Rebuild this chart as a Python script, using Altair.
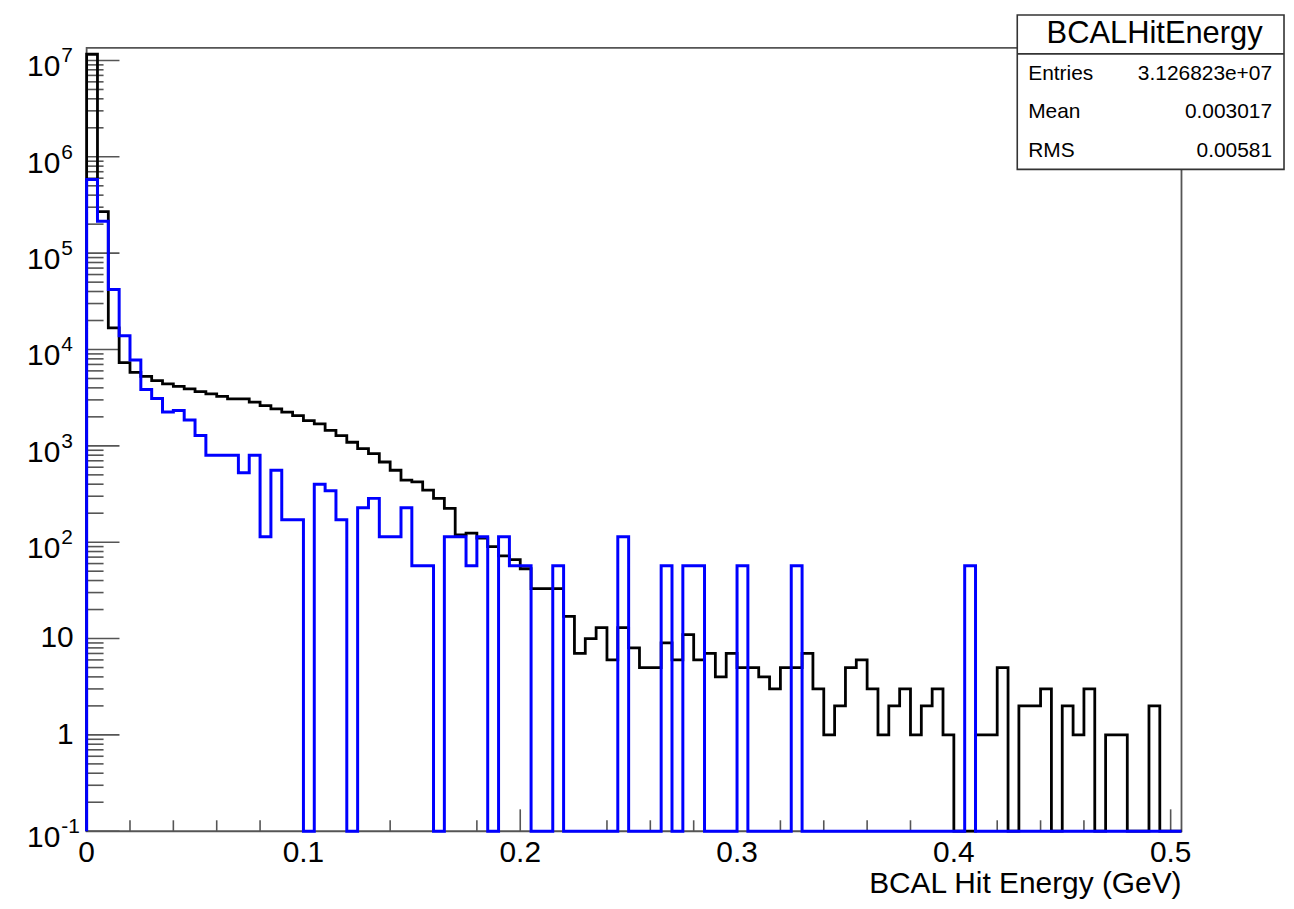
import altair as alt
import pandas as pd

# ---------------- data ----------------
BIN_WIDTH = 0.005
Y_FLOOR = 0.1
Y_TOP = 1.35e7
X_MAX = 0.505

black_counts = [
    1.16e7, 2.7e5, 1.68e4, 7.3e3, 5.8e3, 5.26e3, 4.75e3, 4.4e3, 4.15e3, 3.9e3,
    3.66e3, 3.46e3, 3.27e3, 3.07e3, 3.07e3, 2.84e3, 2.62e3, 2.42e3, 2.24e3, 2.06e3,
    1.83e3, 1.69e3, 1.45e3, 1.28e3, 1.09e3, 935, 830, 680, 558, 440,
    423, 347, 285, 224, 119, 124, 110, 90, 72, 66,
    53, 33, 33, 33, 17, 7, 10, 13, 6, 13,
    8, 5, 5, 9, 6, 11, 6, 7, 4, 7,
    5, 5, 4, 3, 5, 5, 7, 3, 1, 2,
    5, 6, 3, 1, 2, 3, 1, 2, 3, 1,
    0, 0, 1, 1, 5, 0, 2, 2, 3, 0,
    2, 1, 3, 0, 1, 1, 0, 0, 2, 0,
    0,
]

blue_counts = [
    5.8e5, 2.14e5, 4.2e4, 1.39e4, 7.8e3, 3.85e3, 3.1e3, 2.24e3, 2.33e3, 1.85e3,
    1.28e3, 800, 800, 800, 525, 800, 114, 558, 171, 171,
    0, 400, 342, 171, 0, 228, 285, 114, 114, 228,
    57, 57, 0, 114, 114, 57, 114, 0, 114, 57,
    57, 0, 0, 57, 0, 0, 0, 0, 0, 114,
    0, 0, 0, 57, 0, 57, 57, 0, 0, 0,
    57, 0, 0, 0, 0, 57, 0, 0, 0, 0,
    0, 0, 0, 0, 0, 0, 0, 0, 0, 0,
    0, 57, 0, 0, 0, 0, 0, 0, 0, 0,
    0, 0, 0, 0, 0, 0, 0, 0, 0, 0,
    0,
]

y_decades = [-1, 0, 1, 2, 3, 4, 5, 6, 7]
y_minor_mult = [2, 3, 4, 5, 6, 7, 8, 9]
x_major = [0.0, 0.1, 0.2, 0.3, 0.4, 0.5]
x_major_labels = ["0", "0.1", "0.2", "0.3", "0.4", "0.5"]
x_minor = [0.02, 0.04, 0.06, 0.08, 0.12, 0.14, 0.16, 0.18, 0.22, 0.24, 0.26,
           0.28, 0.32, 0.34, 0.36, 0.38, 0.42, 0.44, 0.46, 0.48]
x_title = "BCAL Hit Energy (GeV)"
stat_title = "BCALHitEnergy"
stat_names = ["Entries", "Mean", "RMS"]
stat_values = ["3.126823e+07", "0.003017", "0.00581"]

# ---------------- layout ----------------
W, H = 1100, 787
FONT = "Liberation Sans"
AXIS_COLOR = "#555555"

xs = alt.Scale(domain=[0, X_MAX], nice=False, zero=False)
ys = alt.Scale(type="log", domain=[Y_FLOOR, Y_TOP], nice=False)


def step_frame(counts):
    rows = [{"x": 0.0, "y": Y_FLOOR, "o": 0}]
    for k, c in enumerate(counts):
        rows.append({"x": k * BIN_WIDTH, "y": max(c, Y_FLOOR), "o": k + 1})
    n = len(counts)
    rows.append({"x": n * BIN_WIDTH, "y": max(counts[-1], Y_FLOOR), "o": n + 1})
    rows.append({"x": n * BIN_WIDTH, "y": Y_FLOOR, "o": n + 2})
    return pd.DataFrame(rows)


one = pd.DataFrame({"a": [0]})

frame = alt.Chart(one).mark_rect(fill=None, stroke=AXIS_COLOR, strokeWidth=1.8).encode(
    x=alt.value(0), x2=alt.value(W), y=alt.value(0), y2=alt.value(H))

# y ticks
ymaj = pd.DataFrame({"v": [10.0 ** d for d in y_decades]})
ymin = pd.DataFrame({"v": [m * 10.0 ** d for d in y_decades for m in y_minor_mult
                           if m * 10.0 ** d < Y_TOP]})
ytick_major = alt.Chart(ymaj).mark_rule(color=AXIS_COLOR, strokeWidth=1.6).encode(
    y=alt.Y("v:Q", scale=ys, axis=None), x=alt.value(0), x2=alt.value(33))
ytick_minor = alt.Chart(ymin).mark_rule(color=AXIS_COLOR, strokeWidth=1.6).encode(
    y=alt.Y("v:Q", scale=ys, axis=None), x=alt.value(0), x2=alt.value(17))

# x ticks
xmaj = pd.DataFrame({"t": x_major, "lab": x_major_labels})
xmin = pd.DataFrame({"t": x_minor})
xtick_major = alt.Chart(xmaj).mark_rule(color=AXIS_COLOR, strokeWidth=1.6).encode(
    x=alt.X("t:Q", scale=xs, axis=None), y=alt.value(H), y2=alt.value(H - 22))
xtick_minor = alt.Chart(xmin).mark_rule(color=AXIS_COLOR, strokeWidth=1.6).encode(
    x=alt.X("t:Q", scale=xs, axis=None), y=alt.value(H), y2=alt.value(H - 11))

xlabels = alt.Chart(xmaj).mark_text(font=FONT, fontSize=30, align="center",
                                    baseline="middle", color="black").encode(
    x=alt.X("t:Q", scale=xs, axis=None), y=alt.value(H + 22), text="lab:N")

xtitle = alt.Chart(one).mark_text(font=FONT, fontSize=30, align="right",
                                  baseline="alphabetic", color="black").encode(
    x=alt.value(W), y=alt.value(H + 62), text=alt.value(x_title))

# y labels
plain = pd.DataFrame({"v": [10.0 ** d for d in y_decades if d in (0, 1)],
                      "lab": [str(int(10 ** d)) for d in y_decades if d in (0, 1)]})
expo = pd.DataFrame({"v": [10.0 ** d for d in y_decades if d not in (0, 1)],
                     "base": ["10" for d in y_decades if d not in (0, 1)],
                     "exp": [str(d) for d in y_decades if d not in (0, 1)]})
ylab_plain = alt.Chart(plain).mark_text(font=FONT, fontSize=30, align="right",
                                        baseline="middle", color="black").encode(
    y=alt.Y("v:Q", scale=ys, axis=None), x=alt.value(-13), text="lab:N")
ylab_base = alt.Chart(expo).mark_text(font=FONT, fontSize=30, align="right",
                                      baseline="middle", dy=7, color="black").encode(
    y=alt.Y("v:Q", scale=ys, axis=None), x=alt.value(-26.5), text="base:N")
ylab_exp = alt.Chart(expo).mark_text(font=FONT, fontSize=21, align="left",
                                     baseline="middle", dy=-4, color="black").encode(
    y=alt.Y("v:Q", scale=ys, axis=None), x=alt.value(-25.5), text="exp:N")

# histograms
black_line = alt.Chart(step_frame(black_counts)).mark_line(
    interpolate="step-after", color="black", strokeWidth=2.8, strokeJoin="miter").encode(
    x=alt.X("x:Q", scale=xs, axis=None),
    y=alt.Y("y:Q", scale=ys, axis=None),
    order="o:Q")
blue_line = alt.Chart(step_frame(blue_counts)).mark_line(
    interpolate="step-after", color="#0000ff", strokeWidth=3, strokeJoin="miter").encode(
    x=alt.X("x:Q", scale=xs, axis=None),
    y=alt.Y("y:Q", scale=ys, axis=None),
    order="o:Q")

# stat box
BX0, BX1, BY0, BY1, BSEP = 935, 1203, -33, 122, 6
box = alt.Chart(one).mark_rect(fill="white", stroke="#333333", strokeWidth=1.6).encode(
    x=alt.value(BX0), x2=alt.value(BX1), y=alt.value(BY0), y2=alt.value(BY1))
sep = alt.Chart(one).mark_rule(color="#333333", strokeWidth=1.6).encode(
    x=alt.value(BX0), x2=alt.value(BX1), y=alt.value(BSEP))
box_title = alt.Chart(one).mark_text(font=FONT, fontSize=31, align="center",
                                     baseline="middle", color="black").encode(
    x=alt.value((BX0 + BX1) / 2 + 4), y=alt.value(-14), text=alt.value(stat_title))
row_y = [26, 64, 104]
stat_layers = []
for name, val, yy in zip(stat_names, stat_values, row_y):
    stat_layers.append(alt.Chart(one).mark_text(font=FONT, fontSize=21, align="left",
                                                baseline="middle", color="black").encode(
        x=alt.value(BX0 + 11), y=alt.value(yy), text=alt.value(name)))
    stat_layers.append(alt.Chart(one).mark_text(font=FONT, fontSize=21, align="right",
                                                baseline="middle", color="black").encode(
        x=alt.value(BX1 - 12), y=alt.value(yy), text=alt.value(val)))

chart = alt.layer(
    frame, ytick_minor, ytick_major, xtick_minor, xtick_major,
    black_line, blue_line,
    xlabels, xtitle, ylab_plain, ylab_base, ylab_exp,
    box, sep, box_title, *stat_layers,
).properties(
    width=W, height=H,
    autosize=alt.AutoSizeParams(type="none"),
    padding={"left": 79, "top": 38, "right": 105, "bottom": 68},
    background="white",
).configure_view(stroke=None)

chart.save("out.html", embed_options={"renderer": "svg", "actions": False})
